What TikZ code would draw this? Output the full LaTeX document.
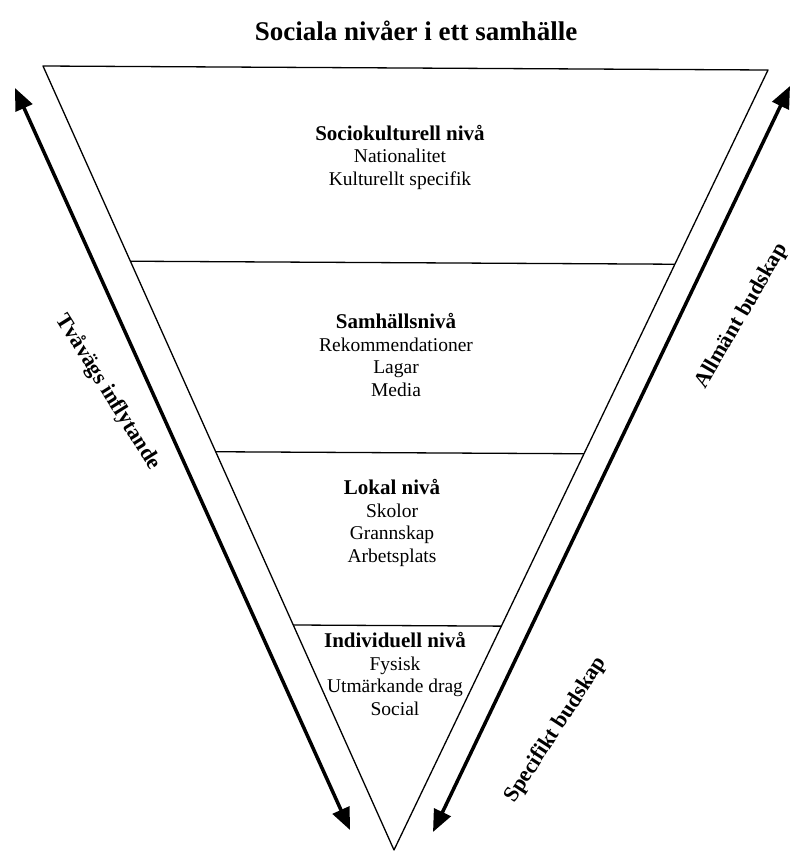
\documentclass[tikz,border=0pt]{standalone}
\usepackage{fontspec}
\setmainfont{Liberation Serif}
\usetikzlibrary{calc,arrows.meta}
\newcommand{\tang}[1]{{\fontsize{21}{22.5}\selectfont\bfseries #1}}
\begin{document}
\begin{tikzpicture}[x=1pt, y=-1pt, font=\fontsize{19.5}{22.5}\selectfont, line join=round, >={Triangle[length=22pt,width=18pt]}]
	% Khung hình
	\useasboundingbox (0,0) rectangle (792,852);
	
	% Tiêu đề
	\node (tieude) at (416,31) {\fontsize{27}{30}\selectfont\bfseries Sociala nivåer i ett samhälle};
	
	% Đỉnh tam giác
	\coordinate (A) at (43,66);
	\coordinate (B) at (768,70);
	\coordinate (C) at (394,850);
	\draw[line width=1.3pt] (A)--(B)--(C)--cycle;
	
	% Các vạch chia
	\foreach \t in {0.249,0.492,0.713}\draw[line width=1.3pt] ($(A)!\t!(C)$)--($(B)!\t!(C)$);
	
	% Các tầng
	\node[align=center] (socio) at (400,157) {\tang{Sociokulturell nivå}\\Nationalitet\\Kulturellt specifik};
	\node[align=center] (samhalle) at (396,355) {\tang{Samhällsnivå}\\Rekommendationer\\Lagar\\Media};
	\node[align=center] (lokal) at (392,523) {\tang{Lokal nivå}\\Skolor\\Grannskap\\Arbetsplats};
	\node[align=center] (individ) at (395,674) {\tang{Individuell nivå}\\Fysisk\\Utmärkande drag\\Social};
	
	% Hai mũi tên
	\coordinate (T1) at (15,88);
	\coordinate (T2) at (350,830);
	\coordinate (P1) at (790,86);
	\coordinate (P2) at (433,832);
	\draw[<->, line width=3.5pt] (T1)--(T2);
	\draw[<->, line width=3.5pt] (P1)--(P2);
	
	% Chữ dọc theo mũi tên
	\node[rotate=-58, font=\fontsize{22}{24}\selectfont\bfseries] (tvavags) at (108,392) {Tvåvägs inflytande};
	\node[rotate=60, font=\fontsize{22}{24}\selectfont\bfseries] (allmant) at (742,316) {Allmänt budskap};
	\node[rotate=57, font=\fontsize{22}{24}\selectfont\bfseries] (specifikt) at (556,730) {Specifikt budskap};
\end{tikzpicture}
\end{document}
